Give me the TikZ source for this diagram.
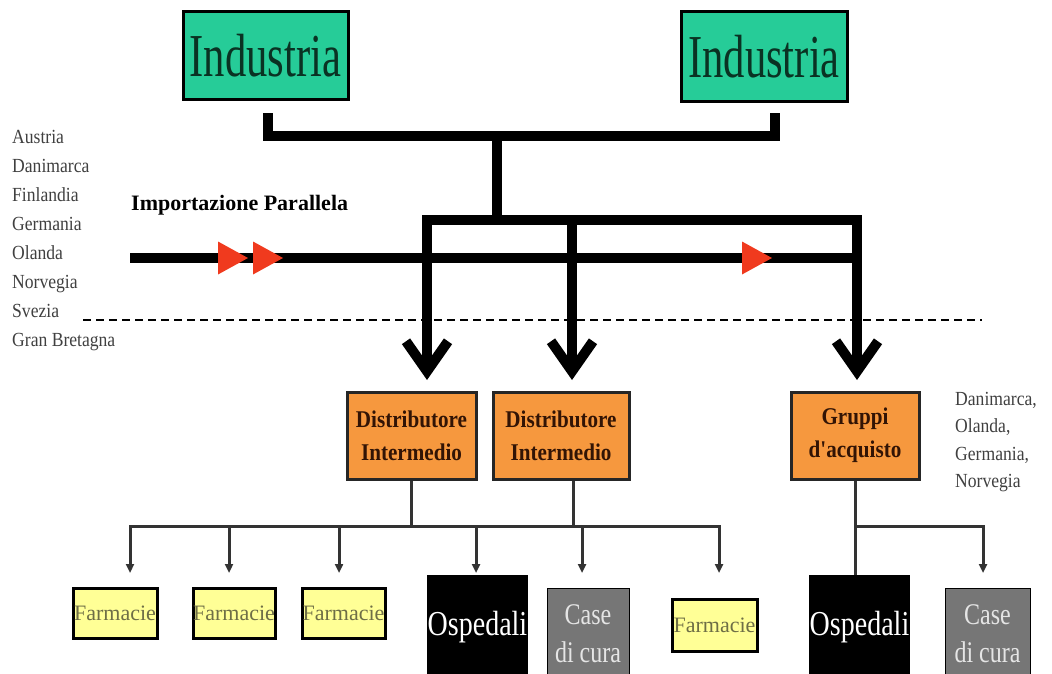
\documentclass[tikz,border=0pt]{standalone}
\usepackage{fontspec}
\setmainfont{Liberation Serif}
\newfontfamily\indfont{Liberation Serif}[FakeStretch=0.7]
\newfontfamily\ospfont{Liberation Serif}[FakeStretch=0.8]
\newfontfamily\listfont{Liberation Serif}[FakeStretch=0.88]
\usetikzlibrary{calc,arrows.meta,decorations.markings}

\definecolor{indgreen}{RGB}{38,204,152}
\definecolor{indtext}{RGB}{10,50,35}
\definecolor{distorange}{RGB}{246,152,62}
\definecolor{disttext}{RGB}{50,20,5}
\definecolor{farmyellow}{RGB}{255,255,150}
\definecolor{farmtext}{RGB}{110,110,70}
\definecolor{casegray}{RGB}{118,118,118}
\definecolor{importred}{RGB}{240,58,30}

\begin{document}
\begin{tikzpicture}[x=1pt,y=-1pt]
\tikzset{
% Box styles: one for every kind of actor
industry/.style={draw,line width=3pt,fill=indgreen,minimum width=165pt,minimum height=88pt,inner sep=0pt,text=indtext,font=\indfont\fontsize{61}{61}\selectfont},
middle/.style={draw,line width=3pt,draw=black!85,fill=distorange,minimum height=87pt,inner sep=0pt,align=center,text=disttext,font=\listfont\bfseries\fontsize{24}{33}\selectfont},
pharmacy/.style={draw,line width=3pt,fill=farmyellow,minimum width=83pt,minimum height=50pt,inner sep=0pt,text=farmtext,font=\fontsize{22}{22}\selectfont},
hospital/.style={fill=black,minimum width=101pt,minimum height=105pt,inner sep=0pt,text=white,font=\ospfont\fontsize{35}{35}\selectfont},
carehome/.style={draw,line width=1pt,fill=casegray,minimum width=83pt,minimum height=92pt,inner sep=0pt,align=center,text=black!10,font=\ospfont\fontsize{30}{38}\selectfont},
country/.style={anchor=base west,inner sep=0pt,text=black!75,font=\listfont\fontsize{20}{20}\selectfont},
% Connector styles
bar/.style={line width=10pt,line join=miter},
big arrow/.style={bar,-{Straight Barb[length=30pt,width=42pt]}},
twig/.style={line width=3pt,draw=black!80},
small arrow/.style={twig,-{Triangle[length=9pt,width=8pt]}},
import marks/.style={decoration={markings,
  mark=at position 118pt with {\arrow{Triangle[length=30pt,width=33pt,color=importred,line width=0pt]}},
  mark=at position 153pt with {\arrow{Triangle[length=30pt,width=33pt,color=importred,line width=0pt]}},
  mark=at position 642pt with {\arrow{Triangle[length=30pt,width=33pt,color=importred,line width=0pt]}}},
  postaction={decorate}}
}
\useasboundingbox (0,0) rectangle (1052,674);

% Industry on top
\node[industry] (ind1) at (265.5,56) {Industria};
\node[industry,minimum width=166pt,minimum height=90pt] (ind2) at (764,57) {Industria};

% Middle level
\node[middle,minimum width=129pt] (dist1) at (411.5,435.5) {Distributore\\Intermedio};
\node[middle,minimum width=136pt] (dist2) at (561,435.5) {Distributore\\Intermedio};
\node[middle,minimum width=128pt] (grp) at (855,435.5) {Gruppi\\d'acquisto};

% Final buyers
\node[pharmacy,minimum width=84pt] (f1) at (115,613) {Farmacie};
\node[pharmacy,minimum width=82pt] (f2) at (234,613) {Farmacie};
\node[pharmacy] (f3) at (343.5,613) {Farmacie};
\node[hospital] (osp1) at (477.5,627.5) {Ospedali};
\node[carehome,minimum width=82pt] (case1) at (588,634) {Case\\di cura};
\node[pharmacy,minimum width=85pt,minimum height=52pt] (f4) at (714.5,625) {Farmacie};
\node[hospital] (osp2) at (859.5,627.5) {Ospedali};
\node[carehome,minimum width=85pt] (case2) at (987.5,634) {Case\\di cura};

% Countries
\foreach \nation [count=\i] in {Austria,Danimarca,Finlandia,Germania,Olanda,Norvegia,Svezia,Gran Bretagna}
  \node[country] (west\i) at (12,{143+29*(\i-1)}) {\nation};
\foreach \nation [count=\i] in {{Danimarca,},{Olanda,},{Germania,},Norvegia}
  \node[country] (north\i) at (955,{405+27.5*(\i-1)}) {\nation};
\node[anchor=base west,inner sep=0pt,font=\bfseries\fontsize{22}{22}\selectfont] (impnote) at (131,210) {Importazione Parallela};

% Thick flow from industry
\coordinate (hub) at (497,136);
\coordinate (split) at (497,220);
\coordinate (tip1) at (427,380);
\coordinate (tip2) at (572,380);
\coordinate (tip3) at (857,380);
\draw[bar] ($(ind1.south)+(2.5,12)$) |- (hub) -| ($(ind2.south)+(11,10)$);
\draw[bar] (hub) -- (split);
\draw[big arrow] (split) -| (tip1);
\draw[big arrow] (split) -| (tip2);
\draw[big arrow] (split) -| (tip3);

% parallel import line
\coordinate (imp) at (130,258);
\draw[bar,import marks] (imp) -- (imp -| tip3);

% border
\coordinate (dash1) at (83,320);
\coordinate (dash2) at (982,320);
\draw[line width=1.8pt,dash pattern=on 8pt off 5pt] (dash1) -- (dash2);

% distribution below
\coordinate (busL) at (130,526);
\coordinate (busR) at (719,526);
\foreach \x [count=\i] in {130,229,339,476,582,719}
  \coordinate (drop\i) at (\x,573);
\coordinate (drop7) at (983,573);
\draw[twig] (dist1.south) -- (dist1.south |- busL);
\draw[twig] ($(dist2.south)+(12,0)$) -- ($(dist2.south |- busL)+(12,0)$);
\draw[twig,line cap=rect] (busL) -- (busR);
\foreach \i in {1,...,6}
  \draw[small arrow] (drop\i |- busL) -- (drop\i);
\draw[twig] (grp.south) -- (grp.south |- osp2.north);
\draw[small arrow] (grp.south |- busL) -| (drop7);
\end{tikzpicture}
\end{document}
